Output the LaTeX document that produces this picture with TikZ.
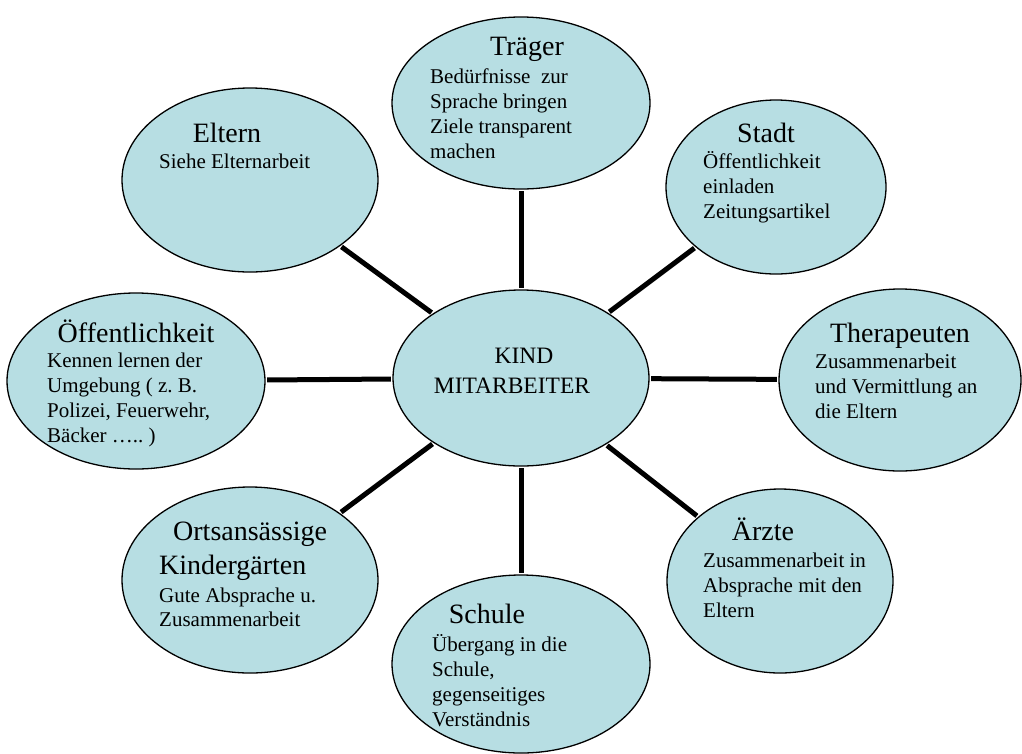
\documentclass[tikz,border=0pt]{standalone}
\usepackage{fontspec}
\setmainfont{Liberation Serif}
\usetikzlibrary{shapes.geometric}
\definecolor{bub}{RGB}{183,222,227}
\frenchspacing
\begin{document}
\begin{tikzpicture}[x=1pt,y=-1pt,
  bubble/.style={ellipse, draw=black, line width=1.3pt, fill=bub, inner sep=0pt},
  ttl/.style={anchor=base, inner sep=0pt, font=\fontsize{28}{33.6}\selectfont},
  ttlw/.style={anchor=base west, inner sep=0pt, font=\fontsize{28}{33.6}\selectfont},
  kindtxt/.style={anchor=base, inner sep=0pt, font=\fontsize{23.5}{28}\selectfont},
  body/.style={anchor=base west, inner sep=0pt, font=\fontsize{21}{25}\selectfont},
  link/.style={line width=5pt, shorten <=1.5pt, shorten >=1.5pt}]
\useasboundingbox (0,0) rectangle (1022,753);
\newcommand\bodybox[1]{\parbox[t]{300pt}{\raggedright #1}}

% ellipses
\node[bubble, minimum width=256pt, minimum height=176pt] (kind) at (521,378) {};
\node[bubble, minimum width=258pt, minimum height=172pt] (traeger) at (521,103) {};
\node[bubble, minimum width=220pt, minimum height=174pt] (stadt) at (776,187) {};
\node[bubble, minimum width=256pt, minimum height=184pt] (eltern) at (250,180) {};
\node[bubble, minimum width=258pt, minimum height=176pt] (oeff) at (136,381) {};
\node[bubble, minimum width=242pt, minimum height=182pt] (thera) at (900,380) {};
\node[bubble, minimum width=226pt, minimum height=184pt] (aerzte) at (780,581) {};
\node[bubble, minimum width=256pt, minimum height=186pt] (orts) at (250,580) {};
\node[bubble, minimum width=258pt, minimum height=178pt] (schule) at (521,664) {};

% texts
\node[kindtxt] (kind-a) at (524,363) {KIND};
\node[kindtxt] (kind-b) at (512,393) {MITARBEITER};

\node[ttl] (traeger-t) at (527,55) {Träger};
\node[body] (traeger-b) at (430,83) {\bodybox{Bedürfnisse~~zur\\Sprache bringen\\Ziele transparent\\machen}};

\node[ttl] (eltern-t) at (227,142) {Eltern};
\node[body] (eltern-b) at (159,168) {\bodybox{Siehe Elternarbeit}};

\node[ttl] (stadt-t) at (766,142) {Stadt};
\node[body] (stadt-b) at (703,168) {\bodybox{Öffentlichkeit\\einladen\\Zeitungsartikel}};

\node[ttl] (oeff-t) at (136,342) {Öffentlichkeit};
\node[body] (oeff-b) at (47,367) {\bodybox{Kennen lernen der\\Umgebung ( z. B.\\Polizei, Feuerwehr,\\Bäcker ….. )}};

\node[ttl] (thera-t) at (900,342) {Therapeuten};
\node[body] (thera-b) at (815,368) {\bodybox{Zusammenarbeit\\und Vermittlung an\\die Eltern}};

\node[ttlw] (orts-t1) at (173,540) {Ortsansässige};
\node[ttlw] (orts-t2) at (159,574) {Kindergärten};
\node[body, font=\fontsize{21}{24}\selectfont] (orts-b) at (159,602) {\bodybox{Gute Absprache u.\\Zusammenarbeit}};

\node[ttl] (aerzte-t) at (763,540) {Ärzte};
\node[body] (aerzte-b) at (703,567) {\bodybox{Zusammenarbeit in\\Absprache mit den\\Eltern}};

\node[ttl] (schule-t) at (487,623) {Schule};
\node[body] (schule-b) at (432,651) {\bodybox{Übergang in die\\Schule,\\gegenseitiges\\Verständnis}};

% connectors
\draw[link] (kind) -- (traeger);
\draw[link] (kind) -- (stadt);
\draw[link] (kind) -- (eltern);
\draw[link] (kind) -- (oeff);
\draw[link] (kind) -- (thera);
\draw[link] (kind) -- (aerzte);
\draw[link] (kind) -- (orts);
\draw[link] (kind) -- (schule);
\end{tikzpicture}
\end{document}
